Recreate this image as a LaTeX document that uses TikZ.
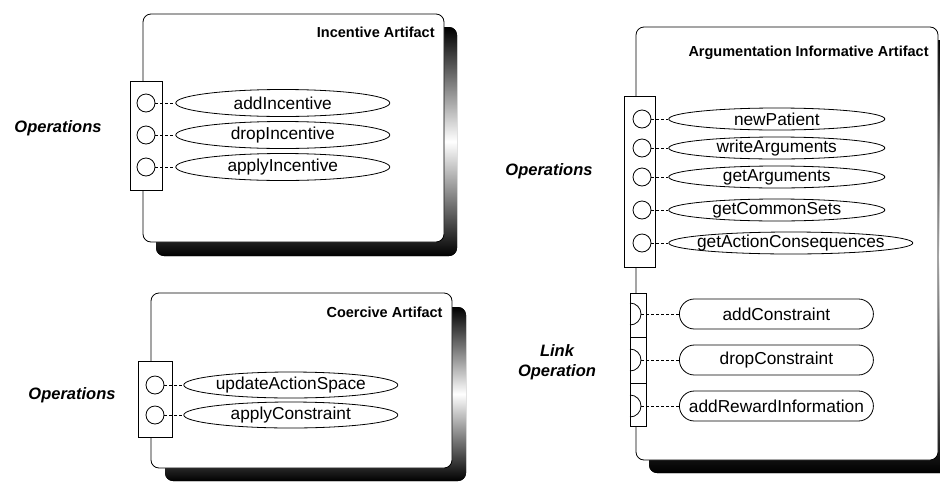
\documentclass[tikz,border=0pt]{standalone}
\usepackage{fontspec}
\setmainfont{Liberation Sans}
\usetikzlibrary{shapes.geometric, positioning}
\tikzset{
  opfont/.style={font=\fontsize{17.3}{19}\selectfont},
  artifact/.style={draw, fill=white, rounded corners=8pt},
  shadowbox/.style={rounded corners=8pt, top color=black, bottom color=black, middle color=white},
  portbox/.style={draw, fill=white},
  port/.style={draw, circle, fill=white, minimum size=18pt, inner sep=0pt},
  opbubble/.style={draw, ellipse, fill=white, inner sep=0pt, label={[opfont]center:#1}},
  linkbubble/.style={draw, fill=white, rounded corners=15pt, minimum width=194pt, minimum height=30pt, inner sep=2pt, opfont},
  conn/.style={dash pattern=on 3pt off 2pt},
  title/.style={anchor=east, inner sep=0pt, font=\bfseries\fontsize{14.5}{16}\selectfont},
  side/.style={align=center, font=\bfseries\itshape\fontsize{16.5}{20}\selectfont}
}
\begin{document}
\begin{tikzpicture}[x=1pt, y=-1pt, line width=0.8pt]
\useasboundingbox (0,0) rectangle (940,488);
% Incentive Artifact
\fill[shadowbox] (156,27) rectangle (457,256);
\draw[artifact] (143,14) rectangle (444,242);
\node[title] (incTitle) at (435,32) {Incentive Artifact};
\draw[portbox] (130,81) rectangle (162,190);
\node[port] (i1) at (146,103) {};
\node[port] (i2) at (146,135) {};
\node[port] (i3) at (146,167) {};
\node[opbubble=addIncentive, minimum width=214pt, minimum height=27pt, right=20pt of i1] (addInc) {};
\node[opbubble=dropIncentive, minimum width=214pt, minimum height=27pt, right=20pt of i2] (dropInc) {};
\node[opbubble=applyIncentive, minimum width=214pt, minimum height=27pt, right=20pt of i3] (applyInc) {};
\draw[conn] (i1) -- (addInc);
\draw[conn] (i2) -- (dropInc);
\draw[conn] (i3) -- (applyInc);
\node[side] (incOps) at (58,128) {Operations};
% Coercive Artifact
\fill[shadowbox] (165,307) rectangle (466,481);
\draw[artifact] (151,293) rectangle (452,468);
\node[title] (coeTitle) at (443,312) {Coercive Artifact};
\draw[portbox] (138,361) rectangle (172,437);
\node[port] (c1) at (155,385) {};
\node[port] (c2) at (155,415) {};
\node[opbubble=updateActionSpace, minimum width=214pt, minimum height=26pt, right=19pt of c1] (updSpace) {};
\node[opbubble=applyConstraint, minimum width=214pt, minimum height=26pt, right=19pt of c2] (applyCons) {};
\draw[conn] (c1) -- (updSpace);
\draw[conn] (c2) -- (applyCons);
\node[side] (coeOps) at (72,395) {Operations};
% Argumentation Informative Artifact
\fill[shadowbox] (649,40) rectangle (951,473);
\draw[artifact] (636,27) rectangle (938,460);
\node[title] (argTitle) at (929,53) {Argumentation Informative Artifact};
\draw[portbox] (624,96) rectangle (655,267);
\node[port] (a1) at (642,119) {};
\node[port] (a2) at (642,148) {};
\node[port] (a3) at (642,177) {};
\node[port] (a4) at (642,210) {};
\node[port] (a5) at (642,243) {};
\node[opbubble=newPatient, minimum width=216pt, minimum height=22pt, right=17pt of a1] (newPat) {};
\node[opbubble=writeArguments, minimum width=216pt, minimum height=22pt, right=17pt of a2] (writeArg) {};
\node[opbubble=getArguments, minimum width=216pt, minimum height=22pt, right=17pt of a3] (getArg) {};
\node[opbubble=getCommonSets, minimum width=216pt, minimum height=22pt, right=17pt of a4] (getSets) {};
\node[opbubble=getActionConsequences, minimum width=244pt, minimum height=22pt, right=17pt of a5] (getCons) {};
\draw[conn] (a1) -- (newPat);
\draw[conn] (a2) -- (writeArg);
\draw[conn] (a3) -- (getArg);
\draw[conn] (a4) -- (getSets);
\draw[conn] (a5) -- (getCons);
\node[side] (argOps) at (549,171) {Operations};
% link operations
\draw[portbox] (630,293) rectangle (646,426);
\draw (630,337) -- (646,337) (630,383) -- (646,383);
\draw (630,303) arc (-90:90:11);
\draw (630,349) arc (-90:90:11);
\draw (630,395) arc (-90:90:11);
\coordinate (l1) at (641,314);
\coordinate (l2) at (641,360);
\coordinate (l3) at (641,406);
\node[linkbubble, right=38pt of l1] (addCons) {addConstraint};
\node[linkbubble, right=38pt of l2] (dropCons) {dropConstraint};
\node[linkbubble, right=38pt of l3] (addRew) {addRewardInformation};
\draw[conn] (l1) -- (addCons);
\draw[conn] (l2) -- (dropCons);
\draw[conn] (l3) -- (addRew);
\node[side] (linkOps) at (557,362) {Link\\Operation};
\end{tikzpicture}
\end{document}
